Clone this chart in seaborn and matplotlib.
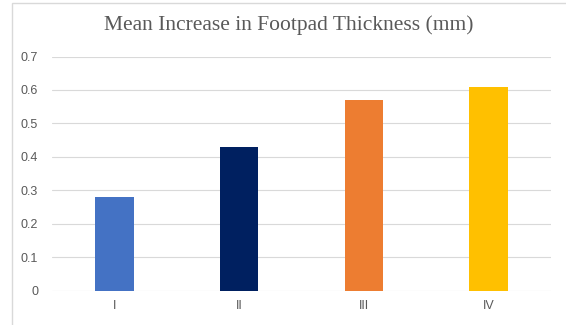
import matplotlib
matplotlib.use("Agg")
import matplotlib.pyplot as plt
from matplotlib.patches import Rectangle
import seaborn as sns
import pandas as pd

# Groups and mean footpad thickness increase (mm)
groups = ["I", "II", "III", "IV"]
mean_increase = [0.28, 0.43, 0.57, 0.61]
bar_colors = ["#4472C4", "#002060", "#ED7D31", "#FFC000"]
y_ticks = [0, 0.1, 0.2, 0.3, 0.4, 0.5, 0.6, 0.7]
y_tick_labels = ["0", "0.1", "0.2", "0.3", "0.4", "0.5", "0.6", "0.7"]
title = "Mean Increase in Footpad Thickness (mm)"

df = pd.DataFrame({"group": groups, "value": mean_increase})

sns.set_style("white")
plt.rcParams["font.family"] = ["Liberation Sans", "DejaVu Sans"]

fig = plt.figure(figsize=(5.66, 3.25), dpi=100)
ax = fig.add_axes([52 / 566, 1 - 290.5 / 325, (551 - 52) / 566, (290.5 - 56.5) / 325])

# chart frame
fig.patches.append(Rectangle((11.5 / 566, -0.1), 1.2, 1 - 3 / 325 + 0.1,
                             transform=fig.transFigure, fill=False,
                             edgecolor="#d9d9d9", linewidth=1.0, zorder=0))

sns.barplot(data=df, x="group", y="value", hue="group", palette=bar_colors,
            order=groups, hue_order=groups, width=0.31, legend=False,
            saturation=1, ax=ax, zorder=3)
for p in ax.patches:
    p.set_edgecolor("none")

ax.set_ylim(0, 0.7)
ax.set_xlim(-0.5, 3.5)
ax.set_yticks(y_ticks)
ax.set_yticklabels(y_tick_labels)
ax.yaxis.grid(True, color="#d9d9d9", linewidth=0.8, zorder=0)
ax.set_axisbelow(True)
for s in ax.spines.values():
    s.set_visible(False)
ax.tick_params(axis="both", length=0, labelsize=9, colors="#595959")
ax.tick_params(axis="y", pad=10)
ax.tick_params(axis="x", pad=7)
ax.set_xlabel("")
ax.set_ylabel("")

fig.text(289 / 566, 1 - 25 / 325, title, ha="center", va="center",
         fontsize=15.5, color="#595959", family=["Liberation Serif", "DejaVu Serif"])

fig.savefig("out.png", dpi=100)
